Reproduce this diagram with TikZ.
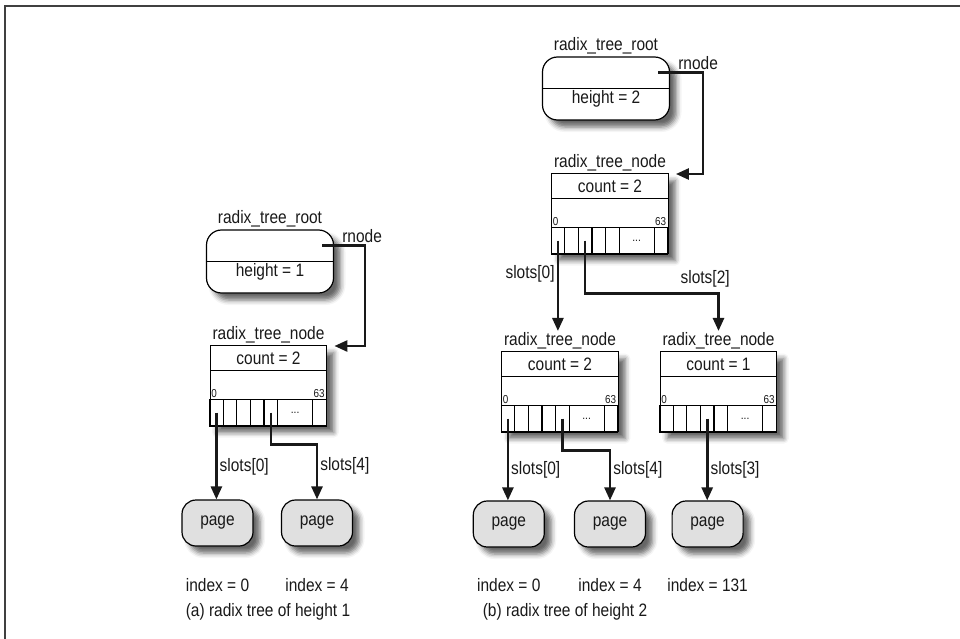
\documentclass[tikz,border=0pt]{standalone}
\usepackage{fontspec}
\setmainfont{Liberation Sans}[FakeStretch=0.86]
\usetikzlibrary{arrows.meta,positioning,calc,shadows.blur}

% one radix_tree_node: name, x, y of top, count
\newcommand{\radixnode}[4]{%
  \node[nodebox] (#1) at (#2,#3) {};
  \node[countcell] (#1-count) at (#1.north) {count = #4};
  \node[namelbl, above=0pt of #1] (#1-name) {radix\_tree\_node};
  \node[slot, anchor=south west] (#1-s1) at (#1.south west) {};
  \foreach \i/\p in {2/1,3/2,4/3,5/4}
    \node[slot, right=0pt of #1-s\p] (#1-s\i) {};
  \node[slot, minimum width=35pt, right=0pt of #1-s5] (#1-dots) {\fontsize{12}{12}\selectfont ...};
  \node[slot, right=0pt of #1-dots] (#1-s63) {};
  \node[numlbl, anchor=south west] (#1-lo) at (#1-s1.north west) {0};
  \node[numlbl, anchor=south east] (#1-hi) at (#1-s63.north east) {63};
}

\begin{document}
\begin{tikzpicture}[x=1pt, y=-1pt,
    every node/.style={font=\fontsize{18}{20}\selectfont, text=black!90},
    shade/.style={blur shadow={shadow xshift=7pt, shadow yshift=-7pt, shadow blur radius=5pt, shadow opacity=60}},
    rootbox/.style={draw, line width=1.2pt, fill=white, rounded corners=15pt, minimum width=127pt, minimum height=63pt, shade},
    nodebox/.style={draw, line width=1.2pt, fill=white, minimum width=116.6pt, minimum height=80pt, anchor=north, inner sep=0pt, shade},
    countcell/.style={draw, line width=1.2pt, minimum width=116.6pt, minimum height=25pt, anchor=north, inner sep=0pt},
    slot/.style={draw, line width=1.2pt, minimum width=13.6pt, minimum height=27pt, inner sep=0pt, outer sep=0pt},
    pagebox/.style={draw, line width=1.2pt, fill=black!12, rounded corners=14pt, minimum width=71pt, minimum height=46pt, shade},
    namelbl/.style={inner sep=1.5pt},
    numlbl/.style={font=\fontsize{11.5}{11.5}\selectfont, inner sep=1.5pt},
    lbl/.style={inner sep=2pt},
    ptr/.style={-{Triangle[length=13pt,width=11pt]}, line width=2.6pt, black!90}
]
\useasboundingbox (0,0) rectangle (960,639);
\draw[line width=1.5pt, black!75] (5,639) -- (5,6) -- (960,6);

% (a) height 1
\node[rootbox] (rootA) at (270,261.5) {};
\draw[line width=1.2pt] (rootA.west) -- (rootA.east);
\node[lbl, anchor=north] (rootA-h) at (rootA.center) {height = 1};
\node[namelbl, above=1pt of rootA] (rootA-name) {radix\_tree\_root};
\node[lbl, anchor=south west] (rnodeA) at ($(rootA.north east)+(6,15)$) {rnode};

\radixnode{nodeA}{268.5}{345}{2}

\node[pagebox] (pageA0) at (217.5,523) {page};
\node[pagebox] (pageA4) at (317,523) {page};
\node[lbl] (idxA0) at (217.5,585) {index = 0};
\node[lbl] (idxA4) at (317,585) {index = 4};
\node[lbl] (capA) at (268,612) {(a) radix tree of height 1};

\coordinate (rootA-p) at ($(rootA.north east)+(-12,16)$);
\draw[ptr] (rootA-p) -- ++(43,0) |- ($(nodeA.north east)+(7,1)$);
\draw[ptr] (nodeA-s1.center) -- (nodeA-s1.center |- pageA0.north)
    node[lbl, pos=0.62, right] {slots[0]};
\draw[ptr] (nodeA-s5.center) -- ++(0,31.5) -| (pageA4.north)
    node[lbl, pos=0.7, right] {slots[4]};

% (b) height 2
\node[rootbox] (rootB) at (606,88.5) {};
\draw[line width=1.2pt] (rootB.west) -- (rootB.east);
\node[lbl, anchor=north] (rootB-h) at (rootB.center) {height = 2};
\node[namelbl, above=1pt of rootB] (rootB-name) {radix\_tree\_root};
\node[lbl, anchor=south west] (rnodeB) at ($(rootB.north east)+(6,15)$) {rnode};

\radixnode{nodeB}{610}{173}{2}
\radixnode{nodeB0}{560}{351}{2}
\radixnode{nodeB2}{718.5}{351}{1}

\node[pagebox] (pageB0) at (508.8,524) {page};
\node[pagebox] (pageB4) at (610,524) {page};
\node[pagebox] (pageB3) at (707.6,524) {page};
\node[lbl] (idxB0) at (508.8,585) {index = 0};
\node[lbl] (idxB4) at (610,585) {index = 4};
\node[lbl] (idxB3) at (707.6,585) {index = 131};
\node[lbl] (capB) at (565,612) {(b) radix tree of height 2};

\coordinate (rootB-p) at ($(rootB.north east)+(-12,16)$);
\draw[ptr] (rootB-p) -- ++(45,0) |- ($(nodeB.north east)+(7,1)$);
\draw[ptr] (nodeB-s1.center) -- (nodeB-s1.center |- nodeB0-name.north)
    node[lbl, pos=0.37, left] {slots[0]};
\draw[ptr] (nodeB-s3.center) -- ++(0,53) -| (nodeB2-name.north)
    node[lbl, pos=0.45, above=3pt] {slots[2]};
\draw[ptr] (nodeB0-s1.center) -- (nodeB0-s1.center |- pageB0.north)
    node[lbl, pos=0.62, right] {slots[0]};
\draw[ptr] (nodeB0-s5.center) -- ++(0,31.5) -| (pageB4.north)
    node[lbl, pos=0.7, right] {slots[4]};
\draw[ptr] (nodeB2-s4.center) -- (nodeB2-s4.center |- pageB3.north)
    node[lbl, pos=0.62, right] {slots[3]};
\end{tikzpicture}
\end{document}
